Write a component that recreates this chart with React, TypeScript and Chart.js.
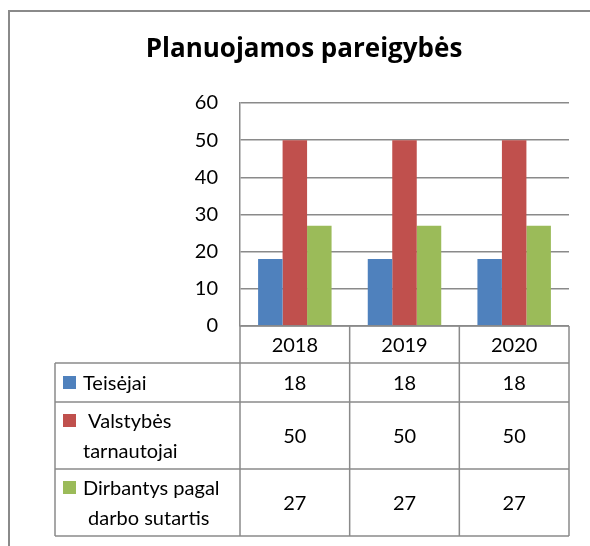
import React, { useEffect, useRef } from "react";
import { Chart, registerables } from "chart.js";

Chart.register(...registerables);

const title = "Planuojamos pareigybės";
const categories = ["2018", "2019", "2020"];
const seriesNames = ["Teisėjai", "Valstybės tarnautojai", "Dirbantys pagal darbo sutartis"];
const seriesLabelLines = [["Teisėjai"], [" Valstybės", "tarnautojai"], ["Dirbantys pagal", " darbo sutartis"]];
const teisejai = [18, 18, 18];
const valstybesTarnautojai = [50, 50, 50];
const dirbantysPagalSutartis = [27, 27, 27];
const seriesColors = ["#4F81BD", "#C0504D", "#9BBB59"];
const yTicks = [0, 10, 20, 30, 40, 50, 60];

const FONT = "Lato, 'Noto Sans', sans-serif";
const TITLE_FONT = "'Open Sans', Lato, sans-serif";
const LINE = "#8a8a8a";

const tablePlugin = {
  id: "excelTable",
  beforeDraw(chart: any) {
    const ctx = chart.ctx;
    ctx.save();
    ctx.fillStyle = "#ffffff";
    ctx.fillRect(0, 0, chart.width, chart.height);
    // frame
    ctx.strokeStyle = LINE;
    ctx.lineWidth = 2;
    ctx.beginPath();
    ctx.moveTo(9, chart.height);
    ctx.lineTo(9, 11);
    ctx.lineTo(chart.width, 11);
    ctx.stroke();
    // title
    ctx.fillStyle = "#000";
    ctx.font = `bold 26px ${TITLE_FONT}`;
    ctx.textAlign = "center";
    ctx.textBaseline = "alphabetic";
    ctx.fillText(title, 304, 57);
    ctx.restore();
  },
  afterDraw(chart: any) {
    const ctx = chart.ctx;
    const area = chart.chartArea;
    const xs = chart.scales.x;
    const n = categories.length;
    const colW = (area.right - area.left) / n;
    const tableLeft = 55;
    const rowEdges = [area.bottom, area.bottom + 37, area.bottom + 76, area.bottom + 143, area.bottom + 210];
    const datasets = chart.data.datasets;
    ctx.save();
    ctx.strokeStyle = LINE;
    ctx.lineWidth = 1.5;
    ctx.beginPath();
    ctx.moveTo(area.left, rowEdges[0]);
    ctx.lineTo(area.right, rowEdges[0]);
    for (let r = 1; r < rowEdges.length; r++) {
      ctx.moveTo(tableLeft, rowEdges[r]);
      ctx.lineTo(area.right, rowEdges[r]);
    }
    ctx.moveTo(tableLeft, rowEdges[1]);
    ctx.lineTo(tableLeft, rowEdges[rowEdges.length - 1]);
    for (let c = 0; c <= n; c++) {
      const x = area.left + c * colW;
      ctx.moveTo(x, rowEdges[0]);
      ctx.lineTo(x, rowEdges[rowEdges.length - 1]);
    }
    ctx.stroke();

    ctx.fillStyle = "#000";
    ctx.font = `20px ${FONT}`;
    ctx.textBaseline = "middle";
    ctx.textAlign = "center";
    categories.forEach((cat, i) => {
      ctx.fillText(cat, xs.getPixelForValue(i), (rowEdges[0] + rowEdges[1]) / 2 + 1);
    });
    datasets.forEach((ds: any, r: number) => {
      const top = rowEdges[r + 1];
      const bot = rowEdges[r + 2];
      const cy = (top + bot) / 2;
      ctx.textAlign = "center";
      ctx.fillStyle = "#000";
      ds.data.forEach((v: number, i: number) => {
        ctx.fillText(String(v), xs.getPixelForValue(i), cy + 1);
      });
      const lines = seriesLabelLines[r];
      const lh = 30;
      const firstY = cy - ((lines.length - 1) * lh) / 2;
      ctx.fillStyle = ds.backgroundColor;
      ctx.fillRect(63, firstY - 6.5, 13, 13);
      ctx.fillStyle = "#000";
      ctx.textAlign = "left";
      lines.forEach((ln: string, k: number) => {
        ctx.fillText(ln, 83, firstY + k * lh + 1);
      });
    });
    ctx.restore();
  },
};

export default function App() {
  const ref = useRef<HTMLCanvasElement>(null);
  useEffect(() => {
    if (!ref.current) return;
    const values = [teisejai, valstybesTarnautojai, dirbantysPagalSutartis];
    const chart = new Chart(ref.current, {
      type: "bar",
      data: {
        labels: categories,
        datasets: seriesNames.map((name, i) => ({
          label: name,
          data: values[i],
          backgroundColor: seriesColors[i],
          borderWidth: 0,
          categoryPercentage: 0.67,
          barPercentage: 1,
        })),
      },
      options: {
        responsive: false,
        animation: false,
        devicePixelRatio: 1,
        layout: { padding: { top: 103, right: 21, bottom: 220, left: 0 } },
        plugins: {
          legend: { display: false },
          title: { display: false },
          tooltip: { enabled: false },
        },
        scales: {
          x: { display: false },
          y: {
            min: yTicks[0],
            max: yTicks[yTicks.length - 1],
            afterBuildTicks: (scale: any) => {
              scale.ticks = yTicks.map((v) => ({ value: v }));
            },
            afterFit: (scale: any) => {
              scale.width = 240;
            },
            ticks: {
              color: "#000",
              font: { family: FONT, size: 20 },
              padding: 22,
            },
            grid: { color: LINE, lineWidth: 1.5, drawTicks: false },
            border: { display: true, color: LINE, width: 1.5 },
          },
        },
      },
      plugins: [tablePlugin],
    });
    return () => chart.destroy();
  }, []);
  return (
    <div style={{ position: "fixed", left: 0, top: 0, width: 590, height: 546, background: "#fff" }}>
      <canvas ref={ref} width={590} height={546} />
    </div>
  );
}
